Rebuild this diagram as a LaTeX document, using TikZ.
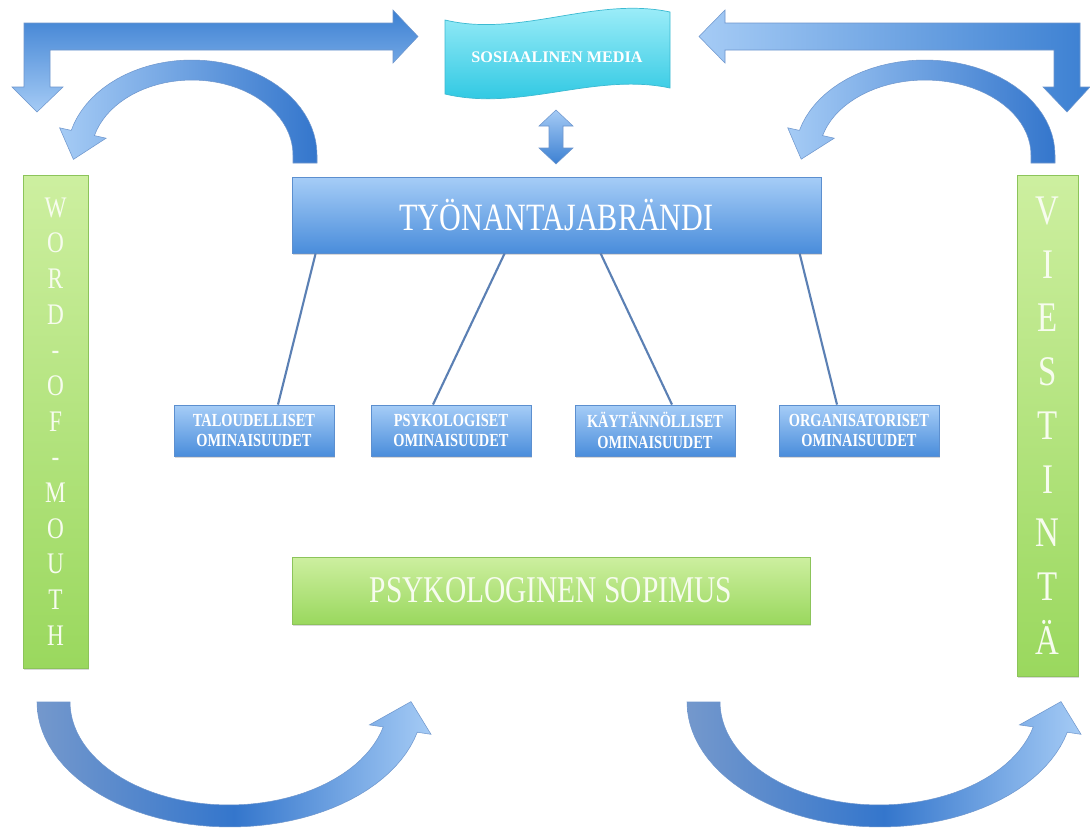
\documentclass[tikz,border=0pt]{standalone}
\usepackage{fontspec}
\setmainfont{Liberation Serif}
\newfontfamily\narrowserif{Liberation Serif}[FakeStretch=0.78]
\usetikzlibrary{positioning,calc,shadows}
\definecolor{bluetop}{RGB}{166,205,247}
\definecolor{bluebot}{RGB}{74,141,219}
\definecolor{boxedge}{RGB}{92,143,207}
\definecolor{greentop}{RGB}{205,239,160}
\definecolor{greenbot}{RGB}{154,216,94}
\definecolor{greenedge}{RGB}{140,196,90}
\definecolor{greentext}{RGB}{247,252,239}
\definecolor{mediatop}{RGB}{169,241,251}
\definecolor{mediabot}{RGB}{34,196,224}
\definecolor{mediaedge}{RGB}{60,186,210}
\definecolor{linkblue}{RGB}{91,128,180}
\definecolor{arrowdark}{RGB}{60,128,210}
\definecolor{arrowdeep}{RGB}{52,118,204}
\definecolor{arrowlight}{RGB}{165,203,245}
\definecolor{archgrey}{RGB}{116,152,204}
\definecolor{arrowedge}{RGB}{110,150,205}

\begin{document}
\begin{tikzpicture}[
    x=0.02cm, y=-0.02cm,
    box/.style={rectangle, draw=boxedge, line width=0.5pt, text=white, inner sep=2pt,
        drop shadow={shadow xshift=0.6pt, shadow yshift=-1.2pt, opacity=0.3}},
    bluebox/.style={box, top color=bluetop, bottom color=bluebot},
    greenbox/.style={box, draw=greenedge, top color=greentop, bottom color=greenbot, text=greentext},
    trait/.style={bluebox, minimum width=3.2cm, minimum height=1.02cm, align=center,
        font=\narrowserif\bfseries\fontsize{10.5}{11.5}\selectfont},
    bar/.style={greenbox, inner sep=0pt, align=center},
    link/.style={draw=linkblue, line width=1.2pt},
    blockarrow/.style={draw=arrowedge, line width=0.3pt}
]
    \fill[white] (0,0) rectangle (1090,832);
    \useasboundingbox (0,0) rectangle (1090,832);

    % Social media banner
    \path[draw=mediaedge, line width=0.4pt, top color=mediatop, bottom color=mediabot]
        (445,20) .. controls (520,38) and (595,-4) .. (670,12) -- (670,88)
        .. controls (595,72) and (520,112) .. (445,94) -- cycle;
    \node[text=white, font=\bfseries\fontsize{9.2}{11}\selectfont] (media) at (557,57) {SOSIAALINEN MEDIA};

    % Top arrows
    \path[blockarrow, top color=arrowdark, bottom color=arrowlight]
        (24,23) -- (393,23) -- (393,10) -- (418,36.5) -- (393,63) -- (393,50) -- (50,50)
        -- (50,87) -- (63,87) -- (37,112) -- (12,87) -- (24,87) -- cycle;
    \path[blockarrow, left color=arrowlight, right color=arrowdark]
        (1080,23) -- (725,23) -- (725,10) -- (699,36.5) -- (725,63) -- (725,50) -- (1054,50)
        -- (1054,87) -- (1043,87) -- (1067,112) -- (1090,87) -- (1080,87) -- cycle;

    % Arches over the side bars
    \path[blockarrow, left color=arrowlight, right color=arrowdeep]
        (317,163) -- (317,155)
        -- plot[domain=0:165, samples=40] ({192+125*cos(\x)}, {155-95*sin(\x)})
        -- (59.6,127.8) -- (73.4,159.4) -- (106.1,138.2)
        -- plot[domain=165:0, samples=40] ({192+101*cos(\x)}, {155-75*sin(\x)})
        -- (293,163) -- cycle;
    \path[blockarrow, left color=arrowlight, right color=arrowdeep]
        (1055,163) -- (1055,155)
        -- plot[domain=0:165, samples=40] ({925+130*cos(\x)}, {155-95*sin(\x)})
        -- (787.7,127.8) -- (801.2,159.2) -- (834.3,138.2)
        -- plot[domain=165:0, samples=40] ({925+106*cos(\x)}, {155-75*sin(\x)})
        -- (1031,163) -- cycle;

    % Media <-> brand
    \path[blockarrow, top color=arrowlight, bottom color=arrowdark]
        (556,110) -- (573,126) -- (563,126) -- (563,148) -- (573,148) -- (556,164)
        -- (539,148) -- (549,148) -- (549,126) -- (539,126) -- cycle;

    % Employer brand
    \node[bluebox, minimum width=10.58cm, minimum height=1.52cm,
        font=\narrowserif\fontsize{22}{26}\selectfont] (brand) at (556.5,215) {TYÖNANTAJABRÄNDI};

    % Attributes
    \node[trait] (tal) at (254,430.5) {TALOUDELLISET\\OMINAISUUDET};
    \node[trait] (psy) at (451,430.5) {PSYKOLOGISET\\OMINAISUUDET};
    \node[trait] (kay) at (655,430.5) {KÄYTÄNNÖLLISET\\OMINAISUUDET};
    \node[trait] (org) at (859,430.5) {ORGANISATORISET\\OMINAISUUDET};

    \draw[link] ($(brand.south west)+(24,0)$) -- ($(tal.north)+(24,0)$);
    \draw[link] ($(brand.south west)+(213,0)$) -- ($(psy.north)+(-18,0)$);
    \draw[link] ($(brand.south west)+(309,0)$) -- ($(kay.north)+(17,0)$);
    \draw[link] ($(brand.south west)+(508,0)$) -- ($(org.north)+(-22,0)$);

    % Psychological contract
    \node[greenbox, minimum width=10.36cm, minimum height=1.34cm,
        font=\narrowserif\fontsize{21.5}{25}\selectfont] (contract) at (551,590.5) {PSYKOLOGINEN SOPIMUS};

    % Side bars
    \node[bar, minimum width=1.3cm, minimum height=9.86cm,
        font=\narrowserif\fontsize{17}{20.3}\selectfont] (wom) at (55.5,421.5)
        {W\\O\\R\\D\\-\\O\\F\\-\\M\\O\\U\\T\\H};
    \node[bar, minimum width=1.22cm, minimum height=10.02cm,
        font=\narrowserif\fontsize{24}{30.6}\selectfont] (viest) at (1047.5,425.5)
        {V\\I\\E\\S\\T\\I\\N\\T\\Ä};

    % Bottom arches
    \path[blockarrow, left color=archgrey, right color=arrowlight, middle color=arrowdeep]
        (37,702)
        -- plot[domain=180:14, samples=50] ({230+193*cos(\x)}, {702+125*sin(\x)})
        -- (431,734.3) -- (411,701.6) -- (369.4,724.9)
        -- plot[domain=14:180, samples=50] ({229+159*cos(\x)}, {702+103*sin(\x)})
        -- cycle;
    \begin{scope}[shift={(650,0)}]
    \path[blockarrow, left color=archgrey, right color=arrowlight, middle color=arrowdeep]
        (37,702)
        -- plot[domain=180:14, samples=50] ({230+193*cos(\x)}, {702+125*sin(\x)})
        -- (431,734.3) -- (411,701.6) -- (369.4,724.9)
        -- plot[domain=14:180, samples=50] ({229+159*cos(\x)}, {702+103*sin(\x)})
        -- cycle;
    \end{scope}
\end{tikzpicture}
\end{document}
